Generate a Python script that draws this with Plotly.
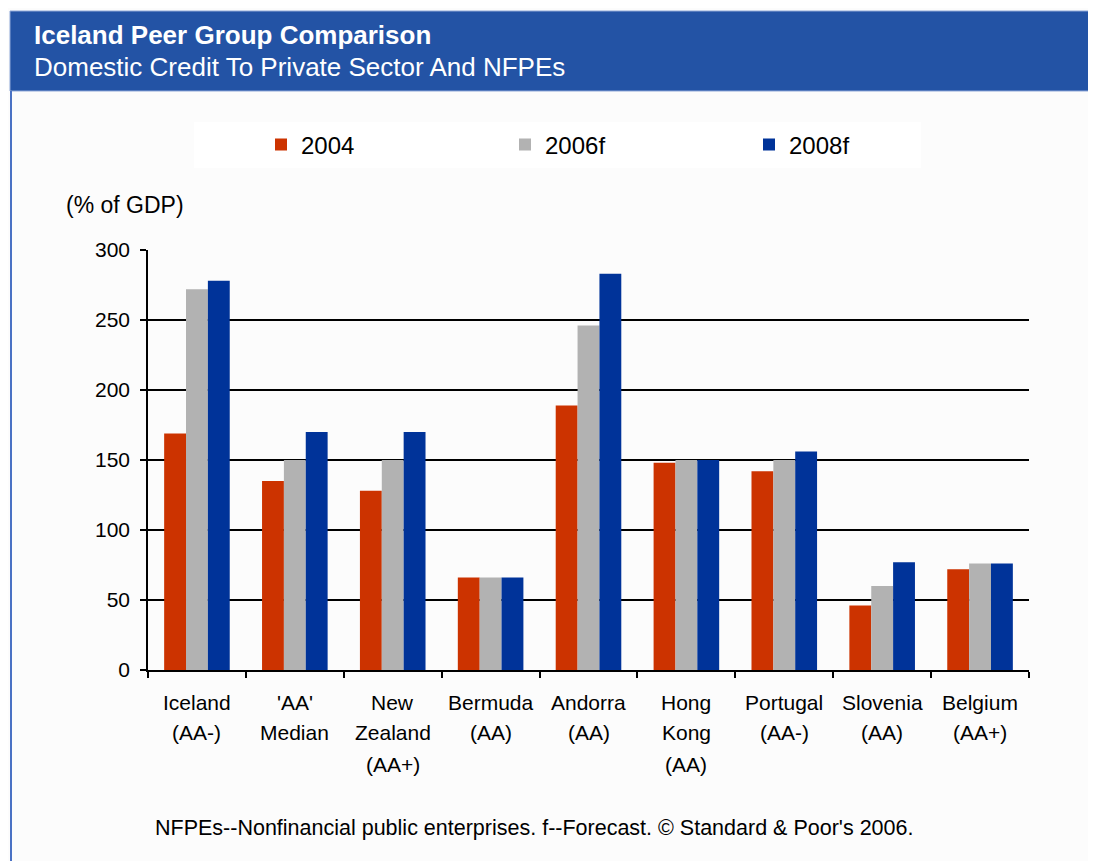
import plotly.graph_objects as go

# ---- data ----
categories = ["Iceland", "'AA' Median", "New Zealand", "Bermuda", "Andorra",
              "Hong Kong", "Portugal", "Slovenia", "Belgium"]
label_lines = [["Iceland", "(AA-)"], ["'AA'", "Median"], ["New", "Zealand", "(AA+)"],
               ["Bermuda", "(AA)"], ["Andorra", "(AA)"], ["Hong", "Kong", "(AA)"],
               ["Portugal", "(AA-)"], ["Slovenia", "(AA)"], ["Belgium", "(AA+)"]]
series_names = ["2004", "2006f", "2008f"]
values_2004 = [169, 135, 128, 66, 189, 148, 142, 46, 72]
values_2006f = [272, 150, 150, 66, 246, 150, 150, 60, 76]
values_2008f = [278, 170, 170, 66, 283, 150, 156, 77, 76]
y_ticks = [0, 50, 100, 150, 200, 250, 300]

colors = ["#CC3300", "#B2B2B2", "#003399"]
FONT = "Liberation Sans, Arial, sans-serif"

OFF = 8  # page body margin
W, H = 1096 - OFF, 861 - OFF
# plot area bounds in page pixels
L, R, T, B = 148, 1029, 250, 670
pw, ph = R - L, B - T


def px(x):
    return (x - L) / pw


def py(y):
    return (B - y) / ph


fig = go.Figure()
for name, vals, col in zip(series_names, [values_2004, values_2006f, values_2008f], colors):
    fig.add_trace(go.Bar(x=categories, y=vals, name=name,
                         marker=dict(color=col, line=dict(width=0))))

shapes = [
    # header band
    dict(type="rect", xref="paper", yref="paper", x0=px(10), x1=px(1110), y0=py(91), y1=py(11),
         fillcolor="#2353A5", line=dict(color="#8FA8D8", width=1), layer="below"),
    # left border
    dict(type="line", xref="paper", yref="paper", x0=px(11), x1=px(11), y0=py(91), y1=py(880),
         line=dict(color="#4A72C4", width=2)),
    # legend box
    dict(type="rect", xref="paper", yref="paper", x0=px(194), x1=px(921), y0=py(168), y1=py(122),
         fillcolor="#FFFFFF", line=dict(width=0), layer="below"),
]

annotations = [
    dict(text="<b>Iceland Peer Group Comparison</b>", xref="paper", yref="paper",
         x=px(32), y=py(35), xanchor="left", yanchor="middle", showarrow=False,
         font=dict(family=FONT, size=26, color="white")),
    dict(text="Domestic Credit To Private Sector And NFPEs", xref="paper", yref="paper",
         x=px(32), y=py(67), xanchor="left", yanchor="middle", showarrow=False,
         font=dict(family=FONT, size=26, color="white")),
    dict(text="(% of GDP)", xref="paper", yref="paper",
         x=px(64), y=py(205), xanchor="left", yanchor="middle", showarrow=False,
         font=dict(family=FONT, size=23, color="black")),
    dict(text="NFPEs--Nonfinancial public enterprises. f--Forecast. \u00a9 Standard & Poor's 2006.",
         xref="paper", yref="paper", x=px(534), y=py(828), xanchor="center", yanchor="middle",
         showarrow=False, font=dict(family=FONT, size=21.5, color="black")),
]

line_offsets = [32, 62, 94]
for cat, lines in zip(categories, label_lines):
    for i, txt in enumerate(lines):
        annotations.append(dict(text=txt, x=cat, xref="x", yref="paper", y=0,
                                yshift=-line_offsets[i], xanchor="center", yanchor="middle",
                                showarrow=False, font=dict(family=FONT, size=21, color="black")))

fig.update_layout(
    width=W, height=H,
    margin=dict(l=L - OFF, r=W - (R - OFF), t=T - OFF, b=H - (B - OFF), autoexpand=False),
    paper_bgcolor="#FCFCFC", plot_bgcolor="#FCFCFC",
    barmode="group", bargap=0.33, bargroupgap=0,
    font=dict(family=FONT, size=21, color="black"),
    showlegend=True,
    legend=dict(orientation="h", x=px(261), y=py(145), xanchor="left", yanchor="middle",
                bgcolor="rgba(0,0,0,0)", entrywidth=199, entrywidthmode="pixels",
                font=dict(family=FONT, size=24, color="black"), traceorder="normal"),
    shapes=shapes, annotations=annotations,
    xaxis=dict(showticklabels=False, ticks="outside", tickson="boundaries", ticklen=6,
               tickcolor="black", tickwidth=1.5, showline=True, linecolor="black", linewidth=1.5,
               showgrid=False, fixedrange=True),
    yaxis=dict(range=[0, 300], tickvals=y_ticks, ticks="outside", ticklen=6, tickcolor="black",
               tickwidth=1.5, showline=True, linecolor="black", linewidth=1.5,
               showgrid=True, gridcolor="black", gridwidth=1.5, zeroline=False,
               tickfont=dict(family=FONT, size=21, color="black"), ticklabelstandoff=6,
               fixedrange=True),
)

fig.write_html("out.html")
